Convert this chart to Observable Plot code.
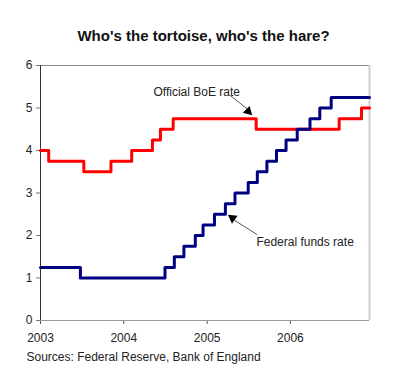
<!DOCTYPE html>
<html>
<head>
<meta charset="utf-8">
<script src="https://cdn.jsdelivr.net/npm/d3@7"></script>
<script src="https://cdn.jsdelivr.net/npm/@observablehq/plot@0.6"></script>
<style>
  html, body { margin: 0; padding: 0; background: #fff; }
  #chart svg { display: block; }
</style>
</head>
<body>
<div id="chart"></div>
<script>
// Official Bank of England rate: change dates and new rate (%)
const boeDates = ["2003-01-01","2003-02-06","2003-07-10","2003-11-06","2004-02-05","2004-05-06","2004-06-10","2004-08-05","2005-08-04","2006-08-03","2006-11-09","2006-12-14"];
const boeRates = [4.00, 3.75, 3.50, 3.75, 4.00, 4.25, 4.50, 4.75, 4.50, 4.75, 5.00, 5.00];

// Federal funds target rate: change dates and new rate (%)
const fedDates = ["2003-01-01","2003-06-25","2004-06-30","2004-08-10","2004-09-21","2004-11-10","2004-12-14","2005-02-02","2005-03-22","2005-05-03","2005-06-30","2005-08-09","2005-09-20","2005-11-01","2005-12-13","2006-01-31","2006-03-28","2006-05-10","2006-06-29","2006-12-14"];
const fedRates = [1.25, 1.00, 1.25, 1.50, 1.75, 2.00, 2.25, 2.50, 2.75, 3.00, 3.25, 3.50, 3.75, 4.00, 4.25, 4.50, 4.75, 5.00, 5.25, 5.25];

const xTicks = ["2003-01-01","2004-01-01","2005-01-01","2006-01-01"];
const yTicks = [0, 1, 2, 3, 4, 5, 6];

const titleText = "Who's the tortoise, who's the hare?";
const captionText = "Sources: Federal Reserve, Bank of England";
const boeLabel = "Official BoE rate";
const fedLabel = "Federal funds rate";

const d = s => new Date(s + "T00:00:00Z");
const boe = boeDates.map((t, i) => ({date: d(t), rate: boeRates[i]}));
const fed = fedDates.map((t, i) => ({date: d(t), rate: fedRates[i]}));

const font = "Liberation Sans, Arial, sans-serif";

const chart = Plot.plot({
  width: 400,
  height: 384,
  marginLeft: 40,
  marginRight: 31,
  marginTop: 65,
  marginBottom: 64,
  style: {fontFamily: font, fontSize: "12px", color: "#222", background: "#fff"},
  x: {type: "utc", domain: [d("2003-01-01"), d("2006-12-14")], label: null},
  y: {domain: [0, 6], label: null},
  marks: [
    // frame: top and right light borders
    Plot.ruleY([6], {stroke: "#8a8a8a", strokeWidth: 1}),
    Plot.ruleX([d("2006-12-14")], {stroke: "#cfcfcf", strokeWidth: 2}),
    Plot.axisX({ticks: xTicks.map(d), tickFormat: d3.utcFormat("%Y"), tickSize: 4, tickPadding: 9, stroke: "#555", fill: "#222", fontSize: 12, label: null}),
    Plot.axisY({ticks: yTicks, tickFormat: d => String(d), tickSize: 4, tickPadding: 4, stroke: "#777", fill: "#222", fontSize: 12, label: null}),
    Plot.ruleY([0], {stroke: "#9a9a9a", strokeWidth: 1}),
    Plot.ruleX([d("2003-01-01")], {y1: 0, y2: 6, stroke: "#333", strokeWidth: 1}),
    Plot.line(boe, {x: "date", y: "rate", curve: "step-after", stroke: "#ff0000", strokeWidth: 3}),
    Plot.line(fed, {x: "date", y: "rate", curve: "step-after", stroke: "#000080", strokeWidth: 3}),
    // annotations
    Plot.text([boeLabel], {x: d("2004-11-16"), y: 5.37, text: d => d, fontSize: 12, fill: "#222", textAnchor: "middle"}),
    Plot.link([0], {x1: d("2005-04-13"), y1: 5.29, x2: d("2005-06-28"), y2: 4.97, stroke: "#555", strokeWidth: 1}),
    Plot.dot([0], {x: d("2005-06-30"), y: 4.92, symbol: "triangle", r: 3.6, rotate: 135, fill: "#000", stroke: "none"}),
    Plot.text([fedLabel], {x: d("2005-08-05"), y: 1.835, text: d => d, fontSize: 12, fill: "#222", textAnchor: "start"}),
    Plot.link([0], {x1: d("2005-08-09"), y1: 2.02, x2: d("2005-04-30"), y2: 2.36, stroke: "#555", strokeWidth: 1}),
    Plot.dot([0], {x: d("2005-04-22"), y: 2.41, symbol: "triangle", r: 3.6, rotate: -55, fill: "#000", stroke: "none"}),
    // title and caption
    Plot.text([titleText], {frameAnchor: "top", dx: -1.5, dy: -35, text: d => d, fontSize: 15, fontWeight: "bold", fill: "#111"}),
    Plot.text([captionText], {frameAnchor: "bottom-left", dx: -14, dy: 40, text: d => d, fontSize: 12, fill: "#222", textAnchor: "start"})
  ]
});
document.getElementById("chart").appendChild(chart);
</script>
</body>
</html>
